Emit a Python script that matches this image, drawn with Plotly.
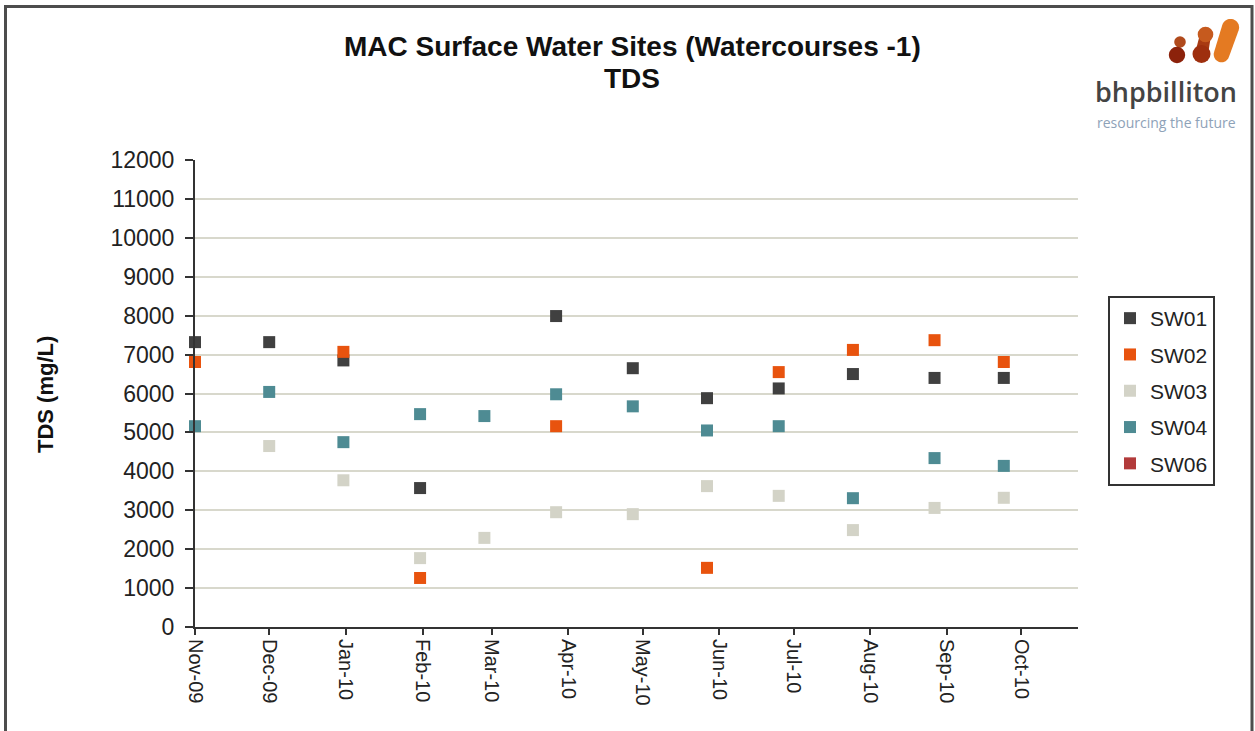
import math
import plotly.graph_objects as go

# Sampling rounds (one field visit per month) and TDS results in mg/L
sample_dates = ["2009-11-01", "2009-12-01", "2009-12-31", "2010-01-31",
                "2010-02-26", "2010-03-27", "2010-04-27", "2010-05-27",
                "2010-06-25", "2010-07-25", "2010-08-27", "2010-09-24"]
sw01 = [7320, 7320, 6850, 3570, None, 7990, 6650, 5880, 6130, 6500, 6400, 6400]
sw02 = [6810, None, 7070, 1260, None, 5160, None, 1520, 6550, 7120, 7370, 6810]
sw03 = [None, 4650, 3770, 1770, 2290, 2950, 2900, 3620, 3370, 2490, 3060, 3320]
sw04 = [5160, 6040, 4750, 5470, 5420, 5980, 5670, 5050, 5160, 3310, 4340, 4140]
sw06 = [None] * 12  # no results for this site in the period

site_names = ["SW01", "SW02", "SW03", "SW04", "SW06"]
site_values = [sw01, sw02, sw03, sw04, sw06]
site_colors = ["#404040", "#e8530e", "#d3d3c7", "#4e8b93", "#b23a3a"]

month_ticks = ["2009-11-01", "2009-12-01", "2010-01-01", "2010-02-01",
               "2010-03-01", "2010-04-01", "2010-05-01", "2010-06-01",
               "2010-07-01", "2010-08-01", "2010-09-01", "2010-10-01"]
month_labels = ["Nov-09", "Dec-09", "Jan-10", "Feb-10", "Mar-10", "Apr-10",
                "May-10", "Jun-10", "Jul-10", "Aug-10", "Sep-10", "Oct-10"]
tds_ticks = list(range(0, 12001, 1000))

W, H = 1255, 731
ML, MR, MT, MB = 195, 177, 160, 104
PW, PH = W - ML - MR, H - MT - MB
FONT = "Arial, Liberation Sans, sans-serif"


def px(x, y):
    """Pixel position on the page -> paper coordinates."""
    return (x - ML) / PW, (H - MB - y) / PH


fig = go.Figure()
for name, vals, col in zip(site_names, site_values, site_colors):
    fig.add_trace(go.Scatter(
        x=sample_dates, y=vals, name=name, mode="markers",
        legendgroup=name, cliponaxis=False,
        marker=dict(symbol="square", size=12, color=col, line=dict(width=0)),
    ))

shapes = []
# outer frame of the chart
fx0, fy0 = px(5.5, 6.5)
fx1, fy1 = px(1252, 760)
shapes.append(dict(type="rect", xref="paper", yref="paper", x0=fx0, x1=fx1,
                   y0=fy1, y1=fy0, line=dict(color="#4d4d4d", width=3),
                   layer="above"))


def circle(cx, cy, r, color):
    x0, y0 = px(cx - r, cy + r)
    x1, y1 = px(cx + r, cy - r)
    return dict(type="circle", xref="paper", yref="paper", x0=x0, x1=x1,
                y0=y0, y1=y1, fillcolor=color, line=dict(width=0))


def capsule(xa, ya, ra, xb, yb, rb, color, n=18):
    ang = math.atan2(yb - ya, xb - xa)
    pts = []
    for k in range(n + 1):
        t = ang + math.pi / 2 + math.pi * k / n
        pts.append((xa + ra * math.cos(t), ya + ra * math.sin(t)))
    for k in range(n + 1):
        t = ang - math.pi / 2 + math.pi * k / n
        pts.append((xb + rb * math.cos(t), yb + rb * math.sin(t)))
    coords = [px(x, y) for x, y in pts]
    path = "M " + " L ".join(f"{a:.5f},{b:.5f}" for a, b in coords) + " Z"
    return dict(type="path", xref="paper", yref="paper", path=path,
                fillcolor=color, line=dict(width=0))


# company mark
shapes.append(circle(1180, 42, 5.8, "#b04a1c"))
shapes.append(circle(1177, 55, 8.2, "#8c220b"))
shapes.append(capsule(1205.5, 35, 5.5, 1201.5, 54, 6.5, "#a83a12"))
shapes.append(circle(1201.5, 54, 9.0, "#9e2f0e"))
shapes.append(circle(1205.5, 34.5, 7.8, "#c65a1e"))
shapes.append(capsule(1230.5, 27.5, 8.6, 1221.5, 54.5, 7.8, "#e47a22"))

annotations = []


def note(text, x, y, size, color="#000000", weight="normal", angle=0,
         family=FONT):
    xp, yp = px(x, y)
    annotations.append(dict(
        text=text, x=xp, y=yp, xref="paper", yref="paper", showarrow=False,
        xanchor="center", yanchor="middle", textangle=angle,
        font=dict(family=family, size=size, color=color, weight=weight)))


note("MAC Surface Water Sites (Watercourses -1)", 632, 47, 28, "#111111", "bold")
note("TDS", 632, 78, 28, "#111111", "bold")
note("TDS (mg/L)", 45, 395, 22, "#111111", "bold", angle=-90)
note("bhpbilliton", 1166, 91, 27, "#444444", 600, family="Open Sans, sans-serif")
note("resourcing the future", 1166, 122, 14, "#8ea2b8",
     family="Open Sans, sans-serif")

lx, ly = px(1108, 296)

fig.update_layout(
    width=W, height=H,
    margin=dict(l=ML, r=MR, t=MT, b=MB),
    paper_bgcolor="white", plot_bgcolor="white",
    font=dict(family=FONT, color="#222222"),
    showlegend=True,
    legend=dict(x=lx, y=ly, xanchor="left", yanchor="top",
                bordercolor="#333333", borderwidth=2, bgcolor="white",
                font=dict(size=21, color="#222222"),
                traceorder="grouped", tracegroupgap=6, itemwidth=30),
    xaxis=dict(type="date", range=["2009-11-01", "2010-10-24"],
               tickmode="array", tickvals=month_ticks, ticktext=month_labels,
               tickangle=90, tickfont=dict(size=20, color="#222222"),
               ticks="outside", ticklen=6, tickwidth=2, tickcolor="#333333",
               showline=True, linecolor="#333333", linewidth=2,
               showgrid=False, zeroline=False),
    yaxis=dict(range=[0, 12000], tickmode="array", tickvals=tds_ticks,
               tickformat="d", tickfont=dict(size=23, color="#222222"),
               ticks="outside", ticklen=8, tickwidth=2, tickcolor="#333333",
               ticklabelstandoff=6,
               showline=True, linecolor="#333333", linewidth=2,
               showgrid=True, gridcolor="#d8d8cc", gridwidth=2,
               zeroline=False),
    shapes=shapes,
    annotations=annotations,
)

fig.write_html("out.html")
